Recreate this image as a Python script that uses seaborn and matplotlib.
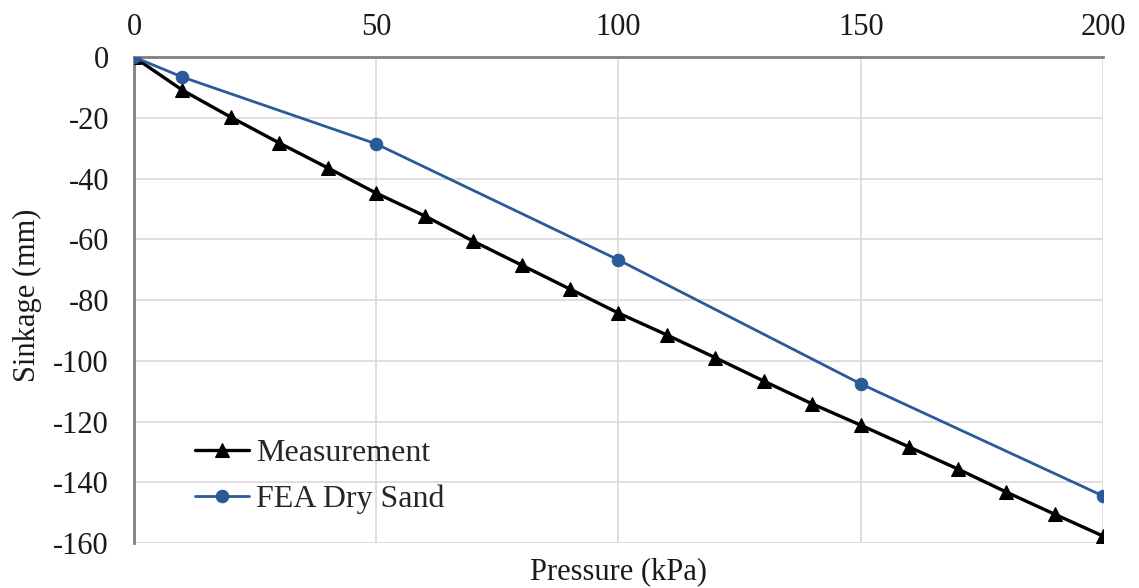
import matplotlib
matplotlib.use("Agg")
import matplotlib.pyplot as plt
import seaborn as sns
import pandas as pd

# data
pressure_meas = [0, 10, 20, 30, 40, 50, 60, 70, 80, 90, 100,
                 110, 120, 130, 140, 150, 160, 170, 180, 190, 200]
sinkage_meas = [0, -10.9, -19.8, -28.3, -36.5, -44.8, -52.3, -60.6, -68.5, -76.4, -84.3,
                -91.5, -99.0, -106.7, -114.2, -121.2, -128.4, -135.6, -143.2, -150.5, -157.7]
pressure_fea = [0, 10, 50, 100, 150, 200]
sinkage_fea = [0, -6.6, -28.6, -66.8, -107.6, -144.5]

x_ticks = [0, 50, 100, 150, 200]
y_ticks = [0, -20, -40, -60, -80, -100, -120, -140, -160]

sns.set_style("white")
plt.rcParams['font.family'] = ['Liberation Serif', 'DejaVu Serif']
plt.rcParams['axes.unicode_minus'] = False

fig = plt.figure(figsize=(11.39, 5.88), dpi=100)
ax = fig.add_axes([0.1176, 0.0765, 0.8508, 0.8265])

df_meas = pd.DataFrame({'p': pressure_meas, 's': sinkage_meas})
df_fea = pd.DataFrame({'p': pressure_fea, 's': sinkage_fea})

sns.lineplot(data=df_meas, x='p', y='s', ax=ax, color='black', marker='^',
             markersize=10, markeredgecolor='black', linewidth=2.4,
             label='Measurement', zorder=3)
sns.lineplot(data=df_fea, x='p', y='s', ax=ax, color='#2B5A98', marker='o',
             markersize=9, markeredgecolor='#2B5A98', linewidth=2.0,
             label='FEA Dry Sand', zorder=4)

ax.set_xlim(0, 200)
ax.set_ylim(-160, 0)
ax.set_xticks(x_ticks)
ax.set_yticks(y_ticks)
ax.xaxis.tick_top()
ax.tick_params(axis='both', length=0, labelsize=22, colors='#1a1a1a')
ax.tick_params(axis='x', pad=11)
ax.tick_params(axis='y', pad=18)

ax.grid(True, color='#d9d9d9', linewidth=1.2)
for side in ['right', 'bottom']:
    ax.spines[side].set_visible(False)
ax.spines['left'].set_color('#808080')
ax.spines['left'].set_linewidth(2)
ax.spines['top'].set_color('#808080')
ax.spines['top'].set_linewidth(2)

ax.set_xlabel('')
ax.set_ylabel('')
fig.text(0.024, 0.497, 'Sinkage (mm)', ha='center', va='center', rotation=90,
         fontsize=22, color='#1a1a1a')
fig.text(0.543, 0.028, 'Pressure (kPa)', ha='center', va='center', fontsize=22,
         color='#1a1a1a')

ax.legend(loc='upper left', bbox_to_anchor=(0.063, 0.214), frameon=False,
          fontsize=23, borderpad=0, labelspacing=0.5, handlelength=1.7,
          handletextpad=0.2, borderaxespad=0)

fig.savefig('out.png', dpi=100)
